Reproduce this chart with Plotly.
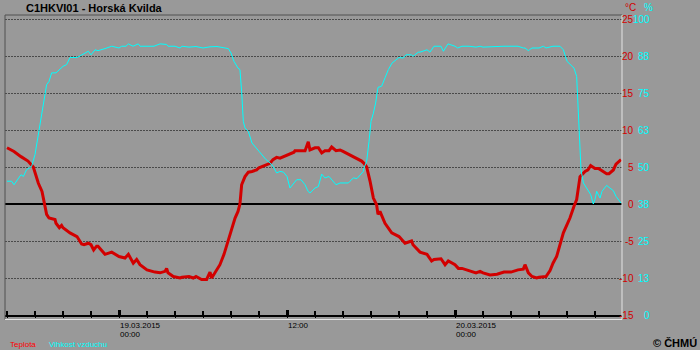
import pandas as pd
import plotly.graph_objects as go

# ---- data (hours relative to 19.03.2015 00:00) ----
temp_hours = [
    -8.0, -7.5, -7.0, -6.5, -6.12, -6.0, -5.76, -5.5, -5.33, -5.17, -5.0, -4.57, -4.5, -4.26, -4.1, -4.0,
    -3.5, -3.0, -2.67, -2.5, -2.19, -2.0, -1.81, -1.6, -1.5, -1.24, -1.0, -0.52, 0.0, 0.43, 0.67, 1.02,
    1.26, 1.5, 2.0, 2.57, 2.93, 3.29, 3.40, 3.5, 3.88, 4.36, 4.5, 5.0, 5.31, 5.5, 5.9, 6.26, 6.5, 6.62,
    6.86, 7.0, 7.21, 7.5, 7.69, 8.0, 8.29, 8.5, 8.64, 8.76, 9.0, 9.24, 9.5, 9.83, 10.0, 10.5, 10.79, 11.0,
    11.26, 11.5, 12.0, 12.5, 12.57, 13.0, 13.29, 13.52, 13.64, 14.0, 14.24, 14.48, 14.71, 15.0, 15.19,
    15.5, 15.79, 16.0, 16.5, 17.0, 17.33, 17.5, 17.69, 17.93, 18.0, 18.17, 18.4, 18.5, 18.64, 19.0, 19.48,
    20.0, 20.43, 20.9, 21.0, 21.5, 22.0, 22.33, 22.5, 23.0, 23.29, 23.52, 24.0, 24.24, 24.5, 25.0, 25.5,
    25.79, 26.0, 26.5, 27.0, 27.5, 28.0, 28.5, 28.88, 29.0, 29.24, 29.5, 29.83, 30.0, 30.5, 30.79, 31.0,
    31.26, 31.5, 31.74, 32.0, 32.21, 32.5, 32.69, 32.93, 33.29, 33.5, 33.69, 34.0, 34.24, 34.5, 34.83,
    35.0, 35.31, 35.5, 35.86,
]
temp_values = [
    7.6, 7.1, 6.4, 5.8, 5.0, 4.2, 2.8, 1.7, 0.0, -1.4, -1.9, -2.1, -2.6, -3.2, -2.9, -3.2,
    -3.9, -4.4, -5.4, -5.5, -5.3, -5.5, -6.2, -5.7, -5.7, -6.2, -6.8, -6.5, -7.1, -7.3, -6.8, -8.0,
    -7.5, -8.2, -8.9, -9.2, -9.3, -9.1, -8.7, -9.3, -9.8, -10.0, -9.9, -9.8, -10.0, -9.8, -10.2, -10.2, -9.2, -10.0,
    -9.3, -8.9, -8.2, -6.8, -5.5, -3.7, -1.9, -1.0, 0.0, 2.6, 3.7, 4.3, 4.4, 4.6, 4.9, 5.3, 5.5, 6.0,
    6.3, 6.2, 6.6, 7.0, 7.2, 7.2, 7.2, 8.4, 7.3, 7.6, 7.6, 6.9, 7.2, 7.2, 7.7,
    7.2, 7.3, 7.1, 6.6, 6.1, 5.8, 5.5, 5.0, 3.1, 2.4, 0.8, -0.1, -1.4, -1.0, -2.6, -3.9,
    -4.4, -5.3, -5.0, -5.5, -6.5, -6.8, -7.7, -7.5, -7.4, -8.2, -7.7, -8.2, -8.7, -8.7, -9.0, -9.3,
    -9.1, -9.3, -9.6, -9.5, -9.2, -9.2, -8.9, -8.8, -8.2, -9.3, -9.8, -10.0, -9.9, -9.8, -9.0, -8.0,
    -7.1, -5.5, -3.9, -2.8, -1.9, -0.3, 0.6, 3.7, 4.4, 4.6, 5.2, 4.8, 4.8, 4.5, 4.1,
    4.1, 4.6, 5.4, 6.0,
]

hum_hours = [
    -8.0, -7.67, -7.5, -7.19, -7.0, -6.83, -6.6, -6.5, -6.24, -6.0, -5.76, -5.5, -5.29, -5.17, -5.0, -4.81,
    -4.5, -4.26, -4.0, -3.74, -3.5, -3.0, -2.67, -2.5, -2.19, -2.0, -1.71, -1.5, -1.24, -1.0, -0.52, 0.0,
    0.19, 0.5, 0.67, 1.0, 1.38, 1.5, 2.0, 2.5, 2.93, 3.4, 3.5, 4.0, 4.36, 4.5, 5.0, 5.5, 6.0, 6.5, 7.0,
    7.5, 7.81, 8.0, 8.21, 8.5, 8.64, 8.76, 8.88, 9.0, 9.24, 9.5, 9.83, 10.0, 10.5, 10.79, 11.0, 11.26,
    11.5, 11.74, 12.0, 12.21, 12.5, 12.69, 13.0, 13.29, 13.5, 13.64, 14.0, 14.24, 14.48, 14.71, 15.0,
    15.31, 15.5, 15.79, 16.0, 16.38, 16.5, 16.74, 17.0, 17.21, 17.45, 17.5, 17.69, 17.86, 18.0, 18.17,
    18.33, 18.5, 18.76, 19.0, 19.24, 19.5, 19.83, 20.0, 20.31, 20.5, 20.9, 21.0, 21.38, 21.5, 22.0,
    22.21, 22.5, 23.0, 23.17, 23.5, 24.0, 24.19, 24.5, 25.0, 25.5, 25.79, 26.0, 26.5, 27.0, 27.5, 28.0,
    28.5, 28.88, 29.0, 29.24, 29.5, 30.0, 30.31, 30.5, 31.0, 31.5, 31.74, 32.0, 32.33, 32.5, 32.69,
    32.81, 32.93, 33.0, 33.17, 33.5, 33.69, 33.88, 34.0, 34.12, 34.36, 34.5, 34.83, 35.0, 35.31, 35.5, 35.86,
]
hum_values = [
    45.2, 45.2, 44.0, 46.3, 47.4, 46.8, 49.1, 49.4, 50.2, 54.2, 60.9, 68.8, 74.4, 77.8, 78.9, 81.8,
    81.8, 82.9, 84.0, 84.6, 87.0, 87.0, 87.9, 88.2, 89.1, 87.9, 89.6, 89.3, 89.6, 90.0, 90.8, 90.2,
    90.8, 90.8, 91.6, 90.8, 91.6, 90.8, 90.8, 90.8, 91.6, 91.4, 90.8, 90.8, 90.2, 90.8, 90.5, 90.7, 90.2, 90.6, 90.7,
    90.2, 90.0, 88.5, 85.7, 83.4, 82.9, 75.6, 65.4, 63.2, 62.0, 58.1, 56.4, 55.3, 52.5, 51.4, 50.2, 48.0,
    48.5, 48.3, 46.8, 42.9, 44.6, 45.7, 45.7, 44.0, 41.8, 41.2, 42.9, 43.4, 47.6, 46.3, 46.8,
    45.2, 44.0, 44.6, 44.6, 44.6, 45.2, 46.3, 46.1, 47.4, 48.5, 49.7, 51.9, 58.7, 65.4, 68.2,
    71.6, 76.9, 77.3, 80.1, 82.9, 85.1, 86.3, 87.0, 86.8, 87.9, 87.9, 87.4, 88.8, 88.8, 89.6,
    88.8, 90.8, 90.8, 89.1, 91.6, 90.8, 90.2, 90.8, 90.8, 90.5, 90.8, 90.5, 90.5, 90.7, 90.8, 90.8,
    90.8, 90.2, 90.2, 89.3, 90.2, 90.2, 90.8, 90.2, 90.8, 90.8, 89.6, 85.7, 84.0, 83.4, 80.6,
    67.7, 53.0, 49.1, 44.6, 41.8, 40.7, 37.5, 39.0, 41.8, 39.5, 41.8, 43.8, 43.1, 42.0, 40.1, 37.8,
]

temp_ticks = [25, 20, 15, 10, 5, 0, -5, -10, -15]
hum_ticks = [100, 88, 75, 63, 50, 38, 25, 13, 0]
x_label_hours = [0, 12, 24]
x_label_line1 = ["19.03.2015", "12:00", "20.03.2015"]
x_label_line2 = ["00:00", "", "00:00"]

title_text = "C1HKVI01 - Horská Kvilda"
series_names = ["Teplota", "Vlhkost vzduchu"]

# ---- styling / layout ----
W, H = 700, 350
ML, MR, MT, MB = 5, 78, 15, 35
PW, PH = W - ML - MR, H - MT - MB
BG = "#999999"
RED = "#d20000"
CYAN = "#00ffff"
T_MIN, T_MAX = -15.0, -15.0 + PH / 7.4
H_MIN, H_MAX = (T_MIN + 15) * 2.5, (T_MAX + 15) * 2.5
base = pd.Timestamp("2015-03-19 00:00")
px_per_hour = 14.0
x_left_h = -(119 - ML) / px_per_hour
x_right_h = x_left_h + PW / px_per_hour
x_range = [base + pd.Timedelta(hours=x_left_h), base + pd.Timedelta(hours=x_right_h)]
minor_tick_hours = list(range(-8, 36, 2))


def to_time(hours):
    return [base + pd.Timedelta(hours=h) for h in hours]


def px_x(p):
    return (p - ML) / PW


def px_y(p):
    return (H - MB - p) / PH


fig = go.Figure()
fig.add_trace(go.Scatter(x=to_time(temp_hours), y=temp_values, mode="lines",
                         line=dict(color=RED, width=3), name=series_names[0],
                         xaxis="x", yaxis="y", hoverinfo="skip"))
fig.add_trace(go.Scatter(x=to_time(hum_hours), y=hum_values, mode="lines",
                         line=dict(color=CYAN, width=1), name=series_names[1],
                         xaxis="x", yaxis="y2", hoverinfo="skip"))
# invisible trace that activates the overlaying axis carrying the 2-hour ticks
fig.add_trace(go.Scatter(x=[x_range[0]], y=[T_MIN], mode="markers", marker=dict(opacity=0),
                         xaxis="x2", yaxis="y", hoverinfo="skip", showlegend=False))

narrow = "Liberation Sans Narrow, Arial Narrow, Liberation Sans, Arial, sans-serif"
sans = "Liberation Sans, Arial, sans-serif"

ann = []
ann.append(dict(text="<b>" + title_text + "</b>", x=px_x(24), y=px_y(8), xref="paper", yref="paper",
                xanchor="left", yanchor="middle", showarrow=False,
                font=dict(family=sans, size=11, color="#000000")))
ann.append(dict(text="°C", x=px_x(638), y=px_y(7), xref="paper", yref="paper",
                xanchor="right", yanchor="middle", showarrow=False,
                font=dict(family=narrow, size=10, color=RED)))
ann.append(dict(text="%", x=px_x(642), y=px_y(7), xref="paper", yref="paper",
                xanchor="left", yanchor="middle", showarrow=False,
                font=dict(family=narrow, size=10, color=CYAN)))
for t, hv in zip(temp_ticks, hum_ticks):
    ann.append(dict(text=str(t), x=px_x(636), y=t, xref="paper", yref="y",
                    xanchor="right", yanchor="middle", showarrow=False,
                    font=dict(family=narrow, size=10, color=RED)))
    ann.append(dict(text=str(hv), x=px_x(652), y=t, xref="paper", yref="y",
                    xanchor="right", yanchor="middle", showarrow=False,
                    font=dict(family=narrow, size=10, color=CYAN)))
for hh, l1, l2 in zip(x_label_hours, x_label_line1, x_label_line2):
    xt = base + pd.Timedelta(hours=hh)
    ann.append(dict(text=l1, x=xt, y=px_y(325.5), xref="x", yref="paper",
                    xanchor="left", yanchor="middle", showarrow=False, xshift=-1,
                    font=dict(family=sans, size=8, color="#000000")))
    if l2:
        ann.append(dict(text=l2, x=xt, y=px_y(334.5), xref="x", yref="paper",
                        xanchor="left", yanchor="middle", showarrow=False, xshift=-1,
                        font=dict(family=sans, size=8, color="#000000")))
ann.append(dict(text=series_names[0], x=px_x(8), y=px_y(344), xref="paper", yref="paper",
                xanchor="left", yanchor="middle", showarrow=False,
                font=dict(family=sans, size=8, color="#ff0000")))
ann.append(dict(text=series_names[1], x=px_x(47), y=px_y(344), xref="paper", yref="paper",
                xanchor="left", yanchor="middle", showarrow=False,
                font=dict(family=sans, size=8, color=CYAN)))
ann.append(dict(text="<b>© ČHMÚ</b>", x=px_x(699), y=px_y(343), xref="paper", yref="paper",
                xanchor="right", yanchor="middle", showarrow=False,
                font=dict(family=sans, size=11, color="#000000")))

dark, light = "#505050", "#e4e4e4"
shapes = [
    dict(type="line", xref="paper", yref="paper", x0=0, x1=1, y0=1, y1=1, line=dict(color=dark, width=1), layer="above"),
    dict(type="line", xref="paper", yref="paper", x0=0, x1=0, y0=px_y(319.5), y1=1, line=dict(color=dark, width=1), layer="above"),
    dict(type="line", xref="paper", yref="paper", x0=1, x1=1, y0=px_y(319.5), y1=1, line=dict(color=light, width=1), layer="above"),
    dict(type="line", xref="paper", yref="paper", x0=0, x1=1, y0=px_y(319.5), y1=px_y(319.5), line=dict(color=light, width=1), layer="above"),
]

fig.update_layout(
    width=W, height=H, margin=dict(l=ML, r=MR, t=MT, b=MB),
    paper_bgcolor=BG, plot_bgcolor=BG, showlegend=False,
    annotations=ann, shapes=shapes,
    xaxis=dict(type="date", range=x_range,
               showgrid=False, zeroline=False, showticklabels=False,
               showline=True, linecolor="#000000", linewidth=2,
               ticks="inside", ticklen=5, tickwidth=3, tickcolor="#000000",
               tick0="2015-03-19 00:00", dtick=12 * 3600 * 1000),
    xaxis2=dict(type="date", range=x_range, overlaying="x", anchor="y", side="bottom",
                showgrid=False, zeroline=False, showticklabels=False, showline=False,
                tickmode="array", tickvals=to_time(minor_tick_hours),
                ticks="outside", ticklen=2, tickwidth=1, tickcolor="#000000"),
    xaxis3=dict(type="date", range=x_range, overlaying="x", anchor="y", side="bottom",
                showgrid=False, zeroline=False, showticklabels=False, showline=False,
                tickmode="array", tickvals=to_time(minor_tick_hours),
                ticks="inside", ticklen=4, tickwidth=1.5, tickcolor="#000000"),
    yaxis=dict(range=[T_MIN, T_MAX], tickvals=[-10, -5, 5, 10, 15, 20, 25], showticklabels=False,
               showgrid=True, gridcolor="#4a4a4a", gridwidth=1, griddash="2px,1px",
               zeroline=True, zerolinecolor="#000000", zerolinewidth=2, ticks=""),
    yaxis2=dict(range=[H_MIN, H_MAX], overlaying="y", side="right", showgrid=False,
                zeroline=False, showticklabels=False, ticks=""),
)
fig.add_trace(go.Scatter(x=[x_range[0]], y=[T_MIN], mode="markers", marker=dict(opacity=0),
                         xaxis="x3", yaxis="y", hoverinfo="skip", showlegend=False))

fig.write_html("out.html")
